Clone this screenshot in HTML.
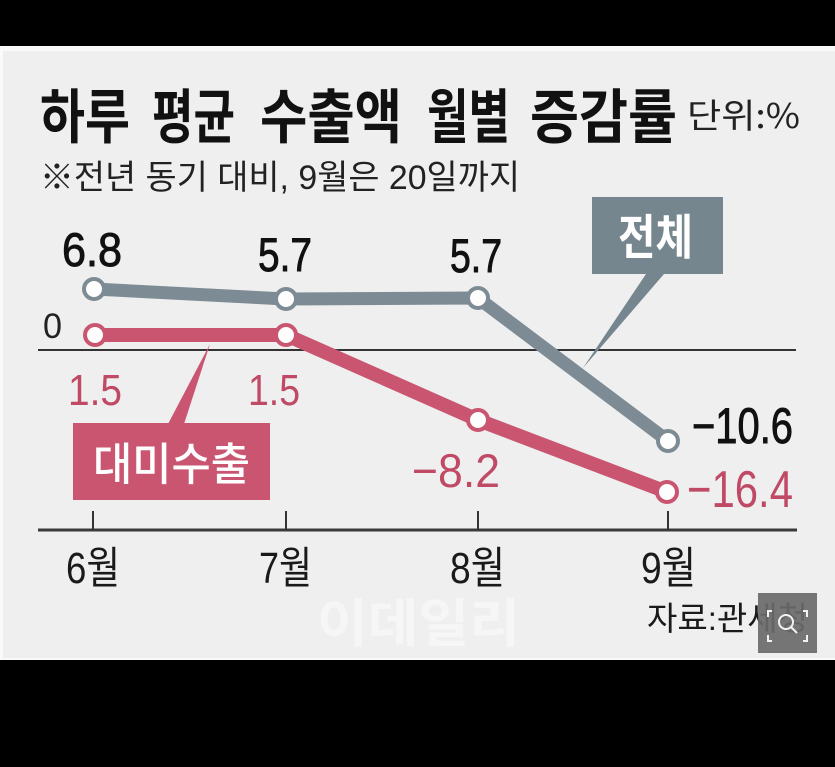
<!DOCTYPE html>
<html><head><meta charset="utf-8"><style>
html,body{margin:0;padding:0;background:#000;}
svg{display:block;}
text{font-family:"Liberation Sans","Noto Sans CJK KR",sans-serif;}
.k{font-family:"Noto Sans CJK KR","Liberation Sans",sans-serif;}
</style></head><body>
<svg width="835" height="767" viewBox="0 0 835 767" xmlns="http://www.w3.org/2000/svg">
<rect x="0" y="0" width="835" height="767" fill="#000"/>
<rect x="0" y="46" width="835" height="614" fill="#fafafa"/>
<rect x="3" y="51" width="832" height="607" fill="#efefef"/>

<!-- title -->
<g class="k" font-weight="bold" font-size="59" fill="#111">
<text class="k" x="40" y="138" textLength="90" lengthAdjust="spacingAndGlyphs">하루</text>
<text class="k" x="152" y="138" textLength="83" lengthAdjust="spacingAndGlyphs">평균</text>
<text class="k" x="260" y="138" textLength="142" lengthAdjust="spacingAndGlyphs">수출액</text>
<text class="k" x="427" y="138" textLength="83" lengthAdjust="spacingAndGlyphs">월별</text>
<text class="k" x="530" y="138" textLength="147" lengthAdjust="spacingAndGlyphs">증감률</text>
</g>
<text class="k" x="687" y="128" font-size="34" fill="#222" textLength="113" lengthAdjust="spacingAndGlyphs">단위:%</text>
<text x="40" y="189" font-size="34" fill="#222" textLength="480" lengthAdjust="spacingAndGlyphs">※전년 동기 대비, 9월은 20일까지</text>

<!-- zero line and axis -->
<line x1="38" y1="350" x2="796" y2="350" stroke="#333" stroke-width="2"/>
<line x1="38" y1="530" x2="797" y2="530" stroke="#3a3a3a" stroke-width="3"/>
<g stroke="#333" stroke-width="2">
<line x1="93" y1="511" x2="93" y2="530"/>
<line x1="286" y1="511" x2="286" y2="530"/>
<line x1="478" y1="511" x2="478" y2="530"/>
<line x1="668" y1="511" x2="668" y2="530"/>
</g>
<text x="43" y="338" font-size="35" fill="#222" textLength="19" lengthAdjust="spacingAndGlyphs">0</text>

<!-- pointers -->
<polygon points="583,368 646,274 664,274" fill="#76868f"/>
<polygon points="210,344 168,424 184,424" fill="#c95570"/>

<!-- callout boxes -->
<rect x="592" y="197" width="131" height="77" fill="#76868f"/>
<text class="k" x="618" y="254" font-size="48" font-weight="bold" fill="#fff" textLength="75" lengthAdjust="spacingAndGlyphs">전체</text>
<rect x="73" y="423" width="197" height="77" fill="#c95570"/>
<text class="k" x="93" y="480" font-size="45" font-weight="500" fill="#fff" textLength="157" lengthAdjust="spacingAndGlyphs">대미수출</text>

<!-- series -->
<polyline points="94,289 286,299 478,298 668,441" fill="none" stroke="#7d8b94" stroke-width="13" stroke-linejoin="round"/>
<polyline points="95,335 286,335 478,420 667,492" fill="none" stroke="#c95570" stroke-width="14" stroke-linejoin="round"/>
<g fill="#fdfdfd" stroke="#7d8b94" stroke-width="4">
<circle cx="94" cy="289" r="10"/><circle cx="286" cy="299" r="10"/><circle cx="478" cy="298" r="10"/><circle cx="668" cy="441" r="10"/>
</g>
<g fill="#fdfdfd" stroke="#c95570" stroke-width="4">
<circle cx="95" cy="335" r="10"/><circle cx="286" cy="335" r="10"/><circle cx="478" cy="420" r="10"/><circle cx="667" cy="492" r="10"/>
</g>

<!-- value labels -->
<g fill="#111" stroke="#111" stroke-width="0.9">
<text x="62" y="266" font-size="47" textLength="60" lengthAdjust="spacingAndGlyphs">6.8</text>
<text x="258" y="271" font-size="47" textLength="54" lengthAdjust="spacingAndGlyphs">5.7</text>
<text x="450" y="272" font-size="47" textLength="52" lengthAdjust="spacingAndGlyphs">5.7</text>
<text x="692" y="443" font-size="50" textLength="101" lengthAdjust="spacingAndGlyphs">−10.6</text>
</g>
<g fill="#c04a66">
<text x="68" y="405" font-size="44" textLength="54" lengthAdjust="spacingAndGlyphs">1.5</text>
<text x="248" y="405" font-size="44" textLength="52" lengthAdjust="spacingAndGlyphs">1.5</text>
<text x="412" y="487" font-size="47" textLength="88" lengthAdjust="spacingAndGlyphs">−8.2</text>
<text x="687" y="507" font-size="52" textLength="106" lengthAdjust="spacingAndGlyphs">−16.4</text>
</g>

<!-- month labels -->
<g fill="#1a1a1a" font-size="44">
<text x="66" y="583" textLength="54" lengthAdjust="spacingAndGlyphs">6월</text>
<text x="259" y="583" textLength="53" lengthAdjust="spacingAndGlyphs">7월</text>
<text x="450" y="583" textLength="55" lengthAdjust="spacingAndGlyphs">8월</text>
<text x="641" y="583" textLength="55" lengthAdjust="spacingAndGlyphs">9월</text>
</g>

<!-- watermark -->
<text class="k" x="317" y="642" font-size="52" font-weight="bold" fill="#f6f6f6" textLength="203" lengthAdjust="spacingAndGlyphs">이데일리</text>

<!-- source -->
<text x="647" y="630" font-size="33" fill="#1a1a1a" textLength="161" lengthAdjust="spacingAndGlyphs">자료:관세청</text>

<!-- icon -->
<rect x="758" y="593" width="59" height="60" fill="#6a6a6a" opacity="0.92"/>
<g fill="none" stroke="#f2f2f2" stroke-width="2">
<polyline points="772,611 768,611 768,617"/>
<polyline points="803,611 807,611 807,617"/>
<polyline points="772,641 768,641 768,635"/>
<polyline points="803,641 807,641 807,635"/>
<circle cx="786" cy="622" r="7"/>
<line x1="791" y1="627" x2="797" y2="633"/>
</g>
</svg>
</body></html>
